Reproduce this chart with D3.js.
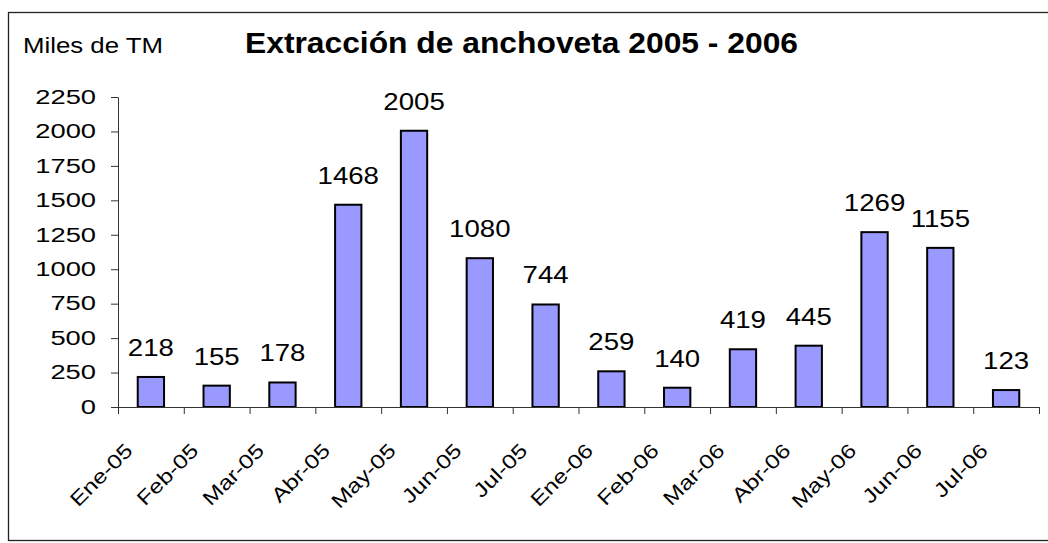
<!DOCTYPE html>
<html>
<head>
<meta charset="utf-8">
<script src="https://cdn.jsdelivr.net/npm/d3@7"></script>
<style>
  body { margin: 0; background: #fff; }
  svg { display: block; font-family: "Liberation Sans", Arial, sans-serif; }
</style>
</head>
<body>
<svg width="1048" height="543"></svg>
<script>
// Data
var months = ["Ene-05", "Feb-05", "Mar-05", "Abr-05", "May-05", "Jun-05", "Jul-05",
              "Ene-06", "Feb-06", "Mar-06", "Abr-06", "May-06", "Jun-06", "Jul-06"];
var catches = [218, 155, 178, 1468, 2005, 1080, 744, 259, 140, 419, 445, 1269, 1155, 123];
var yTicks = [0, 250, 500, 750, 1000, 1250, 1500, 1750, 2000, 2250];

var svg = d3.select("svg"),
    width = +svg.attr("width"),
    height = +svg.attr("height");

// stretch text horizontally, the picture's text is wider than the font
function stretch(sel, k) {
    sel.each(function() {
        var w = this.getComputedTextLength();
        d3.select(this).attr("textLength", w * k).attr("lengthAdjust", "spacingAndGlyphs");
    });
}

// outer frame
svg.append("rect")
    .attr("x", 8.5).attr("y", 12.5)
    .attr("width", 1100).attr("height", 528)
    .attr("fill", "none")
    .attr("stroke", "#222")
    .attr("stroke-width", 1.3);

// plot area
var plotLeft = 118, plotRight = 1039, plotTop = 97, plotBottom = 407;

var x = d3.scaleBand()
    .domain(months)
    .range([plotLeft, plotRight])
    .paddingInner(0.6)
    .paddingOuter(0.3);

var y = d3.scaleLinear()
    .domain([0, 2250])
    .range([plotBottom, plotTop]);

// tick positions between the categories
var xEdges = d3.scaleLinear().domain([0, months.length]).range([plotLeft, plotRight]);

// Bars
svg.append("g")
    .selectAll("rect")
    .data(catches)
    .enter()
    .append("rect")
    .attr("x", (d, i) => x(months[i]))
    .attr("y", d => y(d))
    .attr("width", x.bandwidth())
    .attr("height", d => y(0) - y(d))
    .attr("fill", "#9999ff")
    .attr("stroke", "#000")
    .attr("stroke-width", 2);

// Y axis
var yAxis = svg.append("g")
    .attr("transform", "translate(" + plotLeft + ",0)")
    .call(d3.axisLeft(y).tickValues(yTicks).tickFormat(d3.format("d"))
        .tickSize(7).tickSizeOuter(0).tickPadding(15));
yAxis.select(".domain").attr("stroke", "#333");
yAxis.selectAll(".tick line").attr("stroke", "#333");
yAxis.selectAll("text")
    .attr("font-size", 19.5)
    .attr("fill", "#000")
    .attr("font-family", "Liberation Sans, Arial, sans-serif")
    .call(stretch, 1.4);

// X axis (ticks only)
var xAxis = svg.append("g")
    .attr("transform", "translate(0," + plotBottom + ")")
    .call(d3.axisBottom(xEdges).tickValues(d3.range(0, months.length + 1)).tickSize(7).tickSizeOuter(0).tickFormat(""));
xAxis.select(".domain").attr("stroke", "#333");
xAxis.selectAll(".tick line").attr("stroke", "#333");

// X labels, rotated
svg.append("g")
    .selectAll("text")
    .data(months)
    .enter()
    .append("text")
    .attr("transform", d => "translate(" + (x(d) + x.bandwidth() / 2 - 17) + ",452) rotate(-45)")
    .attr("text-anchor", "end")
    .attr("font-size", 20)
    .text(d => d)
    .call(stretch, 1.22);

// Value labels
svg.append("g")
    .selectAll("text")
    .data(catches)
    .enter()
    .append("text")
    .attr("x", (d, i) => x(months[i]) + x.bandwidth() / 2)
    .attr("y", d => y(d) - 21)
    .attr("text-anchor", "middle")
    .attr("font-size", 24)
    .text(d => d)
    .call(stretch, 1.15);

// Titles
svg.append("text")
    .attr("x", 23).attr("y", 53)
    .attr("font-size", 22)
    .attr("textLength", 140)
    .attr("lengthAdjust", "spacingAndGlyphs")
    .text("Miles de TM");

svg.append("text")
    .attr("x", 245).attr("y", 53)
    .attr("font-size", 29)
    .attr("font-weight", "bold")
    .attr("textLength", 553)
    .attr("lengthAdjust", "spacingAndGlyphs")
    .text("Extracción de anchoveta 2005 - 2006");
</script>
</body>
</html>
